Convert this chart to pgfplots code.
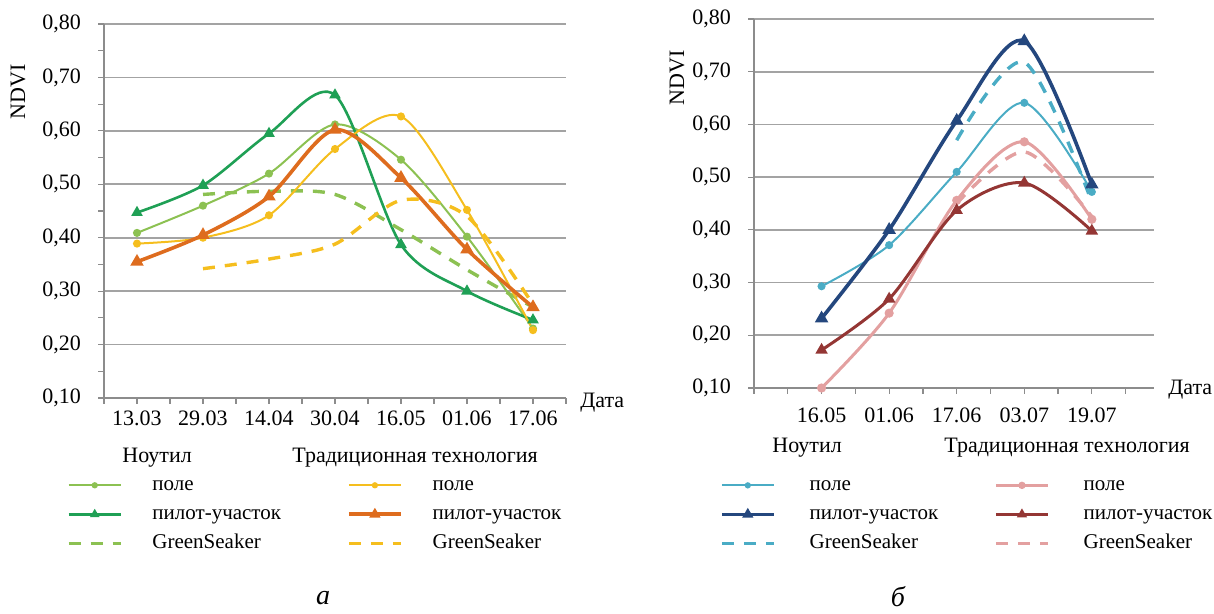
\documentclass[border=0pt]{standalone}
\usepackage{fontspec}
\setmainfont{Liberation Serif}
\usepackage{pgfplots}
\pgfplotsset{compat=1.18}

\definecolor{axgray}{HTML}{8C8C8C}
\definecolor{grgray}{HTML}{A3A3A3}
\definecolor{cLgreen}{HTML}{8CC152}
\definecolor{cDgreen}{HTML}{1FA055}
\definecolor{cGold}{HTML}{F5BE1E}
\definecolor{cOrange}{HTML}{DE6C1E}
\definecolor{cTeal}{HTML}{4AACC5}
\definecolor{cNavy}{HTML}{24477E}
\definecolor{cPink}{HTML}{E3A0A0}
\definecolor{cDred}{HTML}{943634}

\pgfplotsset{
  ndvi/.style={
    scale only axis,
    axis x line*=bottom, axis y line*=left,
    axis line style={-, axgray, line width=0.7pt},
    ymin=0.1, ymax=0.8,
    ytick={0.1,0.2,0.3,0.4,0.5,0.6,0.7,0.8},
    yticklabels={{0,10},{0,20},{0,30},{0,40},{0,50},{0,60},{0,70},{0,80}},
    ymajorgrids, major grid style={grgray, line width=0.8pt},
    tick align=outside, major tick length=3pt, minor tick length=3pt,
    every tick/.style={axgray, line width=0.6pt},
    tick label style={font=\fontsize{11}{13}\selectfont, text=black},
    yticklabel style={xshift=-5pt},
    clip=false,
    legend columns=2,
    legend cell align=left,
    legend style={draw=none, fill=none, inner sep=0pt, outer sep=0pt,
      font=\fontsize{10.5}{12}\selectfont, row sep=2pt,
      nodes={inner sep=1pt, text height=8pt, text depth=2.5pt}},
    legend image code/.code={
      \draw[mark repeat=2, mark phase=2, mark options={scale=0.7}]
        plot coordinates {(0pt,0pt) (13pt,0pt) (26pt,0pt)};},
  },
  pole/.style={line width=1pt, smooth, mark=*, mark size=1.5pt},
  pilot/.style={line width=1.6pt, smooth, mark=triangle*, mark size=2.1pt},
  gs/.style={line width=1.7pt, smooth, dash pattern=on 6pt off 5pt},
}

\begin{document}
\begin{tikzpicture}
\useasboundingbox (0,0) rectangle (607pt,307pt);

% ---------- a ----------
\begin{axis}[ndvi, at={(52pt,108pt)}, anchor=south west,
  width=231pt, height=187pt,
  xmin=-0.5, xmax=6.5, xtick={0,...,6},
  xticklabels={13.03,29.03,14.04,30.04,16.05,01.06,17.06},
  minor xtick={-0.5,0.5,...,6.5},
  minor ytick={0.15,0.25,0.35,0.45,0.55,0.65,0.75},
  legend style={at={(-0.080,-0.200)}, anchor=north west,
    /tikz/every odd column/.append style={column sep=14pt},
    /tikz/every even column/.append style={column sep=32pt}}]
\addplot[cLgreen, pole, forget plot] coordinates {(0,0.409) (1,0.460) (2,0.520) (3,0.612) (4,0.546) (5,0.402) (6,0.230)};
\addplot[cDgreen, pilot, line width=1.3pt, forget plot] coordinates {(0,0.447) (1,0.498) (2,0.595) (3,0.667) (4,0.387) (5,0.300) (6,0.246)};
\addplot[cLgreen, gs, forget plot] coordinates {(1,0.481) (2,0.487) (3,0.481) (4,0.415) (5,0.340) (6,0.270)};
\addplot[cGold, pole, forget plot] coordinates {(0,0.389) (1,0.400) (2,0.442) (3,0.566) (4,0.627) (5,0.452) (6,0.227)};
\addplot[cOrange, pilot, line width=1.8pt, forget plot] coordinates {(0,0.355) (1,0.405) (2,0.477) (3,0.602) (4,0.512) (5,0.378) (6,0.270)};
\addplot[cGold, gs, forget plot] coordinates {(1,0.342) (2,0.360) (3,0.388) (4,0.470) (5,0.440) (6,0.275)};
\addlegendimage{cLgreen, pole}
\addlegendentry{поле}
\addlegendimage{cGold, pole}
\addlegendentry{поле}
\addlegendimage{cDgreen, pilot, line width=1.3pt}
\addlegendentry{пилот-участок}
\addlegendimage{cOrange, pilot, line width=1.8pt}
\addlegendentry{пилот-участок}
\addlegendimage{cLgreen, gs}
\addlegendentry{GreenSeaker}
\addlegendimage{cGold, gs}
\addlegendentry{GreenSeaker}
\end{axis}

% ---------- б ----------
\begin{axis}[ndvi, at={(377pt,113pt)}, anchor=south west,
  width=200pt, height=184.5pt,
  xmin=-1, xmax=4.92, xtick={0,...,4},
  xticklabels={16.05,01.06,17.06,03.07,19.07},
  xticklabel style={yshift=-3.5pt},
  minor xtick={-1,-0.5,0.5,1.5,2.5,3.5,4.5},
  legend style={at={(-0.085,-0.230)}, anchor=north west,
    /tikz/every odd column/.append style={column sep=16pt},
    /tikz/every even column/.append style={column sep=27pt}}]
\addplot[cTeal, pole, forget plot] coordinates {(0,0.293) (1,0.371) (2,0.510) (3,0.641) (4,0.472)};
\addplot[cNavy, pilot, line width=1.8pt, forget plot] coordinates {(0,0.232) (1,0.400) (2,0.607) (3,0.758) (4,0.486)};
\addplot[cTeal, gs, forget plot] coordinates {(2,0.570) (3,0.718) (4,0.453)};
\addplot[cPink, pole, line width=1.5pt, forget plot] coordinates {(0,0.100) (1,0.242) (2,0.456) (3,0.567) (4,0.420)};
\addplot[cDred, pilot, line width=1.5pt, forget plot] coordinates {(0,0.172) (1,0.269) (2,0.437) (3,0.489) (4,0.398)};
\addplot[cPink, gs, forget plot] coordinates {(2,0.450) (3,0.548) (4,0.425)};
\addlegendimage{cTeal, pole}
\addlegendentry{поле}
\addlegendimage{cPink, pole, line width=1.5pt}
\addlegendentry{поле}
\addlegendimage{cNavy, pilot, line width=1.8pt}
\addlegendentry{пилот-участок}
\addlegendimage{cDred, pilot, line width=1.5pt}
\addlegendentry{пилот-участок}
\addlegendimage{cTeal, gs}
\addlegendentry{GreenSeaker}
\addlegendimage{cPink, gs}
\addlegendentry{GreenSeaker}
\end{axis}

% labels and headings
\begin{scope}[every node/.style={font=\fontsize{11}{13}\selectfont, inner sep=0pt}]
\node[rotate=90] at (9pt,261pt) {NDVI};
\node[rotate=90] at (338.5pt,268pt) {NDVI};
\node[anchor=west] at (290pt,105.5pt) {Дата};
\node[anchor=west] at (584pt,112pt) {Дата};
\node[anchor=west] at (61pt,78pt) {Ноутил};
\node[anchor=west] at (146pt,78pt) {Традиционная технология};
\node[anchor=west] at (386pt,83pt) {Ноутил};
\node[anchor=west] at (472pt,83pt) {Традиционная технология};
\node[font=\fontsize{14}{16}\selectfont\itshape] at (161.5pt,8pt) {а};
\node[font=\fontsize{14}{16}\selectfont\itshape] at (449pt,8.5pt) {б};
\end{scope}
\end{tikzpicture}
\end{document}
